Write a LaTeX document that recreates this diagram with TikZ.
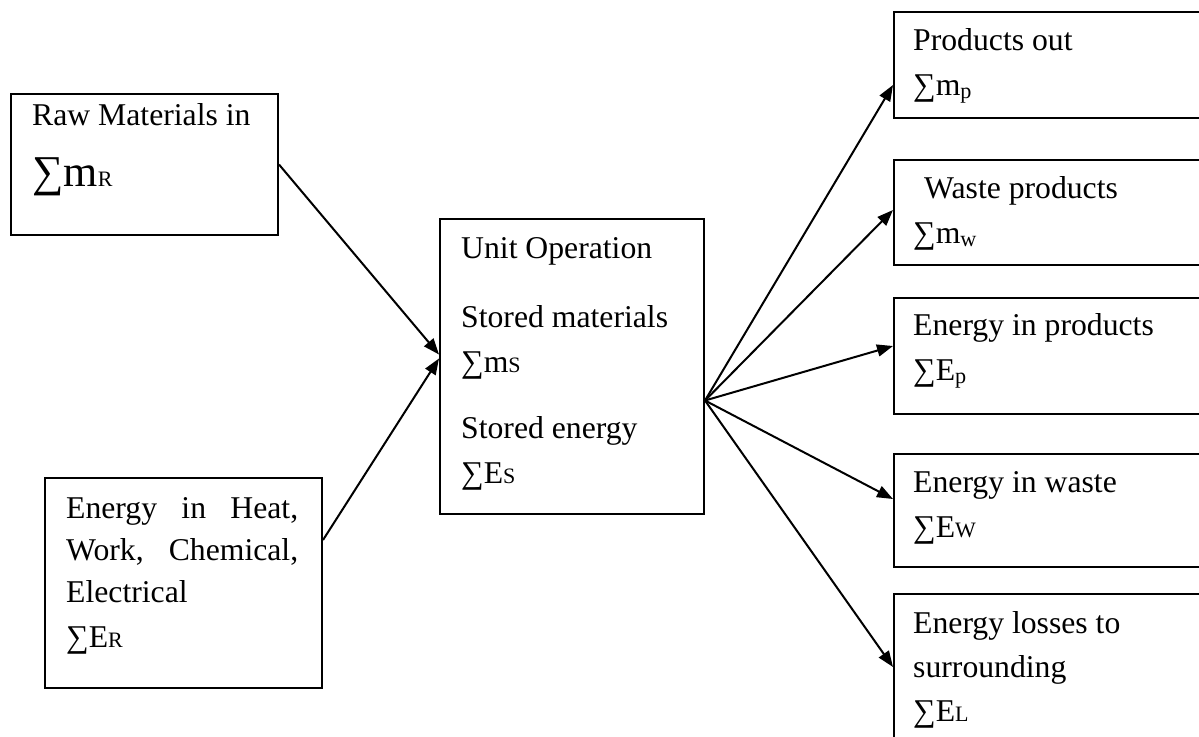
\documentclass[tikz,border=0pt]{standalone}
\usepackage{fontspec}
\setmainfont{Liberation Serif}
\usepackage{tikz}
\usetikzlibrary{arrows.meta}

\newcommand{\lowsub}[1]{\textsubscript{#1}}
\newcommand{\capsub}[1]{{\fontsize{22}{22}\selectfont #1}}

\begin{document}
\begin{tikzpicture}[x=1pt,y=-1pt,
    box/.style={draw, line width=2pt, anchor=north west, inner sep=0pt},
    txt/.style={anchor=base west, inner sep=0pt, font=\fontsize{31.7}{45}\selectfont},
    flow/.style={line width=2pt, -{Triangle[length=16pt,width=12pt]}}]
    \useasboundingbox (0,0) rectangle (1199,736);

    % inputs
    \node[box, minimum width=267pt, minimum height=141pt] (raw) at (10,93) {};
    \node[box, minimum width=277pt, minimum height=210pt] (energy) at (44,477) {};
    \node[txt] (rawtxt) at ([shift={(22pt,-32pt)}]raw.north west)
        {\begin{tabular}[t]{@{}l@{}}Raw Materials in\\[16pt]
        {\fontsize{44}{44}\selectfont ∑m}\capsub{R}\end{tabular}};
    \node[txt] (energytxt) at ([shift={(22pt,-41pt)}]energy.north west)
        {\begin{tabular}[t]{@{}l@{}}\makebox[232pt][s]{Energy in Heat,}\\[-3pt]
        \makebox[232pt][s]{Work, Chemical,}\\[-3pt]
        Electrical\\ ∑E\capsub{R}\end{tabular}};

    % unit operation
    \node[box, minimum width=264pt, minimum height=295pt] (unit) at (439,218) {};
    \node[txt] (unittxt) at ([shift={(22pt,-40pt)}]unit.north west)
        {\begin{tabular}[t]{@{}l@{}}Unit Operation\\[24pt]
        Stored materials\\ ∑m\capsub{S}\\[21pt]
        Stored energy\\ ∑E\capsub{S}\end{tabular}};

    % outputs
    \node[box, minimum width=320pt, minimum height=106pt] (prod) at (893,11) {};
    \node[box, minimum width=320pt, minimum height=105pt] (waste) at (893,159) {};
    \node[box, minimum width=320pt, minimum height=116pt] (eprod) at (893,297) {};
    \node[box, minimum width=320pt, minimum height=113pt] (ewaste) at (893,453) {};
    \node[box, minimum width=320pt, minimum height=170pt] (eloss) at (893,593) {};

    \node[txt] (prodtxt) at ([shift={(20pt,-39pt)}]prod.north west)
        {\begin{tabular}[t]{@{}l@{}}Products out\\ ∑m\lowsub{p}\end{tabular}};
    \node[txt] (wastetxt) at ([shift={(20pt,-39pt)}]waste.north west)
        {\begin{tabular}[t]{@{}l@{}}\hspace{11pt}Waste products\\ ∑m\lowsub{w}\end{tabular}};
    \node[txt] (eprodtxt) at ([shift={(20pt,-38pt)}]eprod.north west)
        {\begin{tabular}[t]{@{}l@{}}Energy in products\\ ∑E\lowsub{p}\end{tabular}};
    \node[txt] (ewastetxt) at ([shift={(20pt,-39pt)}]ewaste.north west)
        {\begin{tabular}[t]{@{}l@{}}Energy in waste\\ ∑E\capsub{W}\end{tabular}};
    \node[txt] (elosstxt) at ([shift={(20pt,-40pt)}]eloss.north west)
        {\begin{tabular}[t]{@{}l@{}}Energy losses to\\[-1pt] surrounding\\[-1pt] ∑E\capsub{L}\end{tabular}};

    % flows
    \draw[flow] (raw.east) -- ([yshift=12pt]unit.west);
    \draw[flow] ([yshift=-63pt]energy.north east) -- ([yshift=8pt]unit.west);

    \coordinate (fan) at ([yshift=-34pt]unit.east);
    \draw[flow] (fan) -- ([yshift=-74pt]prod.north west);
    \draw[flow] (fan) -- ([yshift=-51pt]waste.north west);
    \draw[flow] (fan) -- ([yshift=-49pt]eprod.north west);
    \draw[flow] (fan) -- ([yshift=-46pt]ewaste.north west);
    \draw[flow] (fan) -- ([yshift=-74pt]eloss.north west);
\end{tikzpicture}
\end{document}
